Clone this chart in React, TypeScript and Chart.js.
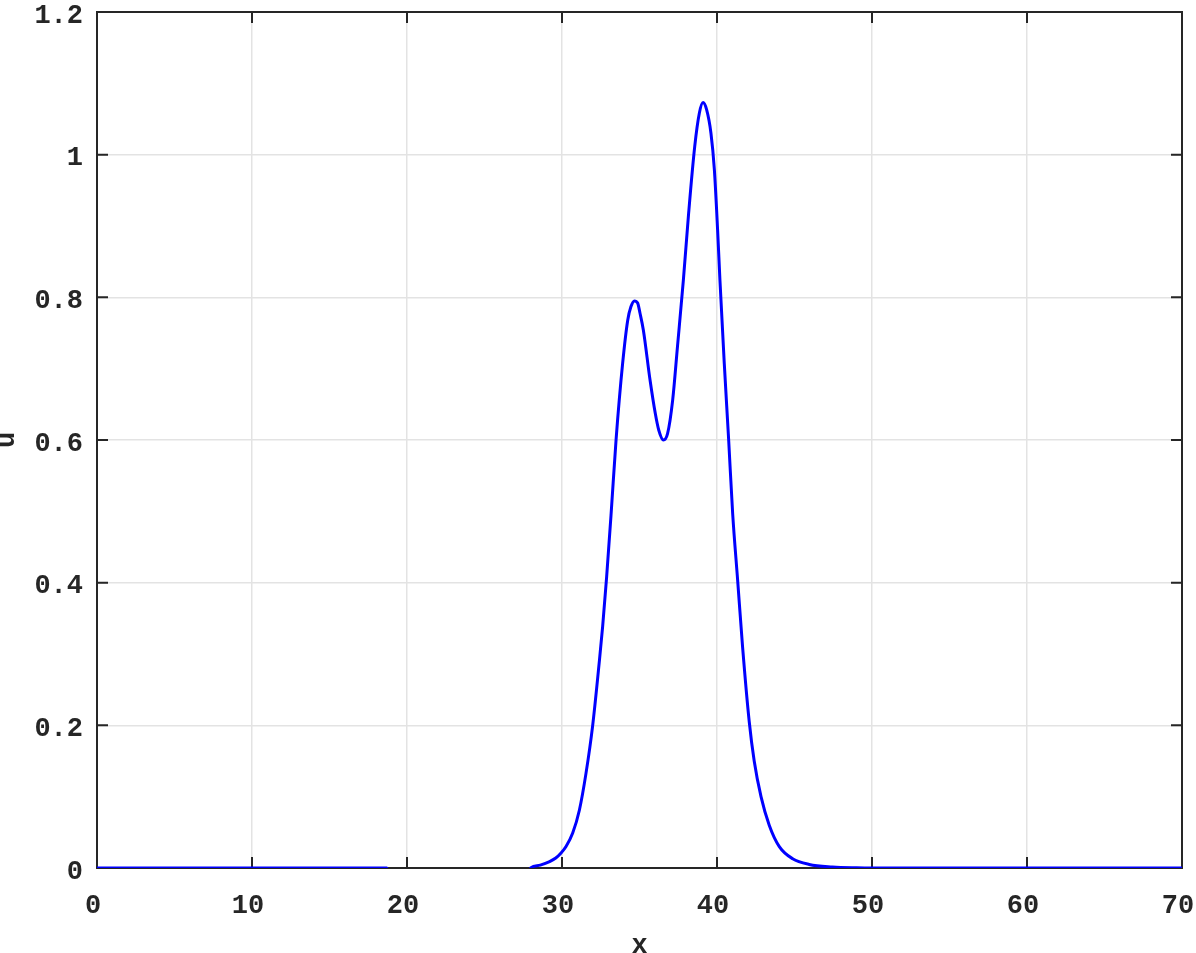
import React, { useEffect, useRef } from "react";
import { Chart, registerables } from "chart.js";

Chart.register(...registerables);

const xValues = [
  0, 5, 10, 15, 18.7, 18.8, 20, 22, 24, 26, 27.8, 28.0, 28.6, 29.2, 29.6, 29.94,
  30.26, 30.69, 31.12, 31.55, 31.98, 32.41, 32.62, 32.88, 33.17, 33.49, 33.91,
  34.24, 34.45, 34.67, 34.88, 35.03, 35.25, 35.68, 36.02, 36.24, 36.54, 36.81,
  37.14, 37.45, 37.83, 38.17, 38.56, 38.86, 39.1, 39.33, 39.61, 39.83, 40.04,
  40.19, 40.47, 40.75, 41.01, 41.33, 41.65, 42.08, 42.4, 42.84, 43.37, 44.02,
  44.88, 45.95, 47.45, 49, 50, 55, 60, 65, 70,
];

const uValues = [
  0, 0, 0, 0, 0, -0.005, -0.005, -0.005, -0.005, -0.005, -0.005, 0.0005, 0.004,
  0.009, 0.014, 0.021, 0.03, 0.049, 0.081, 0.133, 0.2, 0.29, 0.338, 0.408,
  0.497, 0.601, 0.707, 0.768, 0.787, 0.795, 0.792, 0.778, 0.754, 0.684, 0.637,
  0.614, 0.6, 0.609, 0.656, 0.731, 0.824, 0.918, 1.011, 1.058, 1.073, 1.063,
  1.03, 0.979, 0.894, 0.824, 0.707, 0.601, 0.497, 0.404, 0.31, 0.205, 0.15,
  0.1, 0.06, 0.03, 0.013, 0.005, 0.0015, 0.0003, 0, 0, 0, 0, 0,
];

const xTickValues = [0, 10, 20, 30, 40, 50, 60, 70];
const yTickValues = [0, 0.2, 0.4, 0.6, 0.8, 1, 1.2];
const xTitle = "x";
const yTitle = "u";

const FONT_FAMILY = "'Liberation Mono', 'Courier New', 'DejaVu Sans Mono', monospace";
const TEXT_COLOR = "#262626";

export default function App() {
  const canvasRef = useRef<HTMLCanvasElement | null>(null);

  useEffect(() => {
    document.body.style.margin = "0";
    const canvas = canvasRef.current;
    if (!canvas) return;

    const boxPlugin = {
      id: "matlabBox",
      beforeDatasetsDraw(chart: any) {
        const { ctx, chartArea, scales } = chart;
        const { left, right, top, bottom } = chartArea;
        const xs = scales.x;
        const ys = scales.y;
        ctx.save();
        ctx.strokeStyle = TEXT_COLOR;
        ctx.lineWidth = 2;
        ctx.strokeRect(left, top, right - left, bottom - top);
        const tl = 11;
        ctx.beginPath();
        xs.ticks.forEach((t: any) => {
          const px = xs.getPixelForValue(t.value);
          ctx.moveTo(px, bottom);
          ctx.lineTo(px, bottom - tl);
          ctx.moveTo(px, top);
          ctx.lineTo(px, top + tl);
        });
        ys.ticks.forEach((t: any) => {
          const py = ys.getPixelForValue(t.value);
          ctx.moveTo(left, py);
          ctx.lineTo(left + tl, py);
          ctx.moveTo(right, py);
          ctx.lineTo(right - tl, py);
        });
        ctx.stroke();
        ctx.restore();
      },
    };

    const zeroPadding = (scale: any) => {
      scale.paddingTop = 0;
      scale.paddingBottom = 0;
      scale.paddingLeft = 0;
      scale.paddingRight = 0;
    };

    const tickFont = { family: FONT_FAMILY, weight: "bold" as const, size: 27 };
    const titleFont = { family: FONT_FAMILY, weight: "bold" as const, size: 27, lineHeight: 1 };

    const chart = new Chart(canvas, {
      type: "line",
      data: {
        datasets: [
          {
            data: xValues.map((x, i) => ({ x, y: uValues[i] })),
            borderColor: "#0000ff",
            borderWidth: 3,
            pointRadius: 0,
            fill: false,
            cubicInterpolationMode: "monotone",
          },
        ],
      },
      options: {
        responsive: false,
        animation: false,
        events: [],
        layout: { padding: { left: 0, top: 12, right: 14, bottom: 0 } },
        plugins: {
          legend: { display: false },
          tooltip: { enabled: false },
        },
        scales: {
          x: {
            type: "linear",
            min: 0,
            max: 70,
            afterBuildTicks: (scale: any) => {
              scale.ticks = xTickValues.map((v) => ({ value: v }));
            },
            afterFit: (scale: any) => {
              scale.height = 85;
              zeroPadding(scale);
            },
            ticks: {
              font: tickFont,
              color: TEXT_COLOR,
              padding: 22,
              labelOffset: -4,
              maxRotation: 0,
              autoSkip: false,
              callback: (v: any) => String(v),
            },
            grid: { color: "#e3e3e3", lineWidth: 1.5, drawTicks: false },
            border: { display: false },
            title: {
              display: true,
              text: xTitle,
              font: titleFont,
              color: TEXT_COLOR,
              padding: { top: 0, bottom: -7 },
            },
          },
          y: {
            type: "linear",
            min: 0,
            max: 1.2,
            afterBuildTicks: (scale: any) => {
              scale.ticks = yTickValues.map((v) => ({ value: v }));
            },
            afterFit: (scale: any) => {
              scale.width = 97;
              zeroPadding(scale);
            },
            ticks: {
              font: tickFont,
              color: TEXT_COLOR,
              padding: 14,
              labelOffset: 4,
              autoSkip: false,
              callback: (v: any) => String(Math.round(Number(v) * 10) / 10),
            },
            grid: { color: "#e3e3e3", lineWidth: 1.5, drawTicks: false },
            border: { display: false },
            title: {
              display: true,
              text: yTitle,
              font: titleFont,
              color: TEXT_COLOR,
              padding: { top: -6, bottom: 0 },
            },
          },
        },
      },
      plugins: [boxPlugin],
    });

    return () => {
      chart.destroy();
    };
  }, []);

  return (
    <div style={{ width: 1196, height: 953 }}>
      <canvas ref={canvasRef} width={1196} height={953} style={{ display: "block" }} />
    </div>
  );
}
